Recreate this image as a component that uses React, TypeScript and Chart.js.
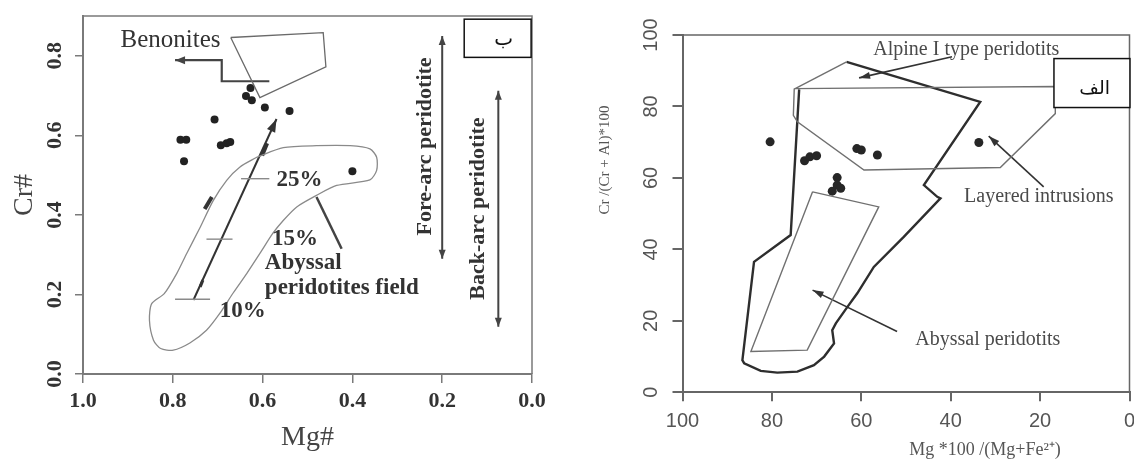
import React, { useEffect, useRef } from 'react';
import { Chart, registerables } from 'chart.js';

Chart.register(...registerables);

// ================= Panel "ب" (left): Cr# vs Mg# =================
const LEFT_X_TICKS = [1.0, 0.8, 0.6, 0.4, 0.2, 0.0];
const LEFT_Y_TICKS = [0.0, 0.2, 0.4, 0.6, 0.8];

const LEFT_SAMPLE_MG = [0.627, 0.637, 0.624, 0.595, 0.540, 0.707, 0.783, 0.770, 0.693, 0.680, 0.672, 0.775, 0.400];
const LEFT_SAMPLE_CR = [0.719, 0.699, 0.688, 0.670, 0.661, 0.640, 0.589, 0.589, 0.575, 0.580, 0.583, 0.535, 0.510];

const BENONITES_MG = [0.671, 0.465, 0.459, 0.606, 0.671];
const BENONITES_CR = [0.846, 0.858, 0.772, 0.695, 0.846];

const BENONITES_ARROW_MG = [0.585, 0.691, 0.691, 0.795];
const BENONITES_ARROW_CR = [0.736, 0.736, 0.789, 0.789];

const ABYSSAL_FIELD_MG = [0.613, 0.554, 0.480, 0.405, 0.361, 0.346, 0.346, 0.361, 0.435, 0.480, 0.524, 0.554, 0.577, 0.606, 0.635, 0.666, 0.695, 0.725, 0.762, 0.799, 0.827, 0.843, 0.852, 0.847, 0.819, 0.791, 0.769, 0.739, 0.710, 0.680, 0.651, 0.613];
const ABYSSAL_FIELD_CR = [0.545, 0.569, 0.574, 0.574, 0.566, 0.545, 0.512, 0.488, 0.474, 0.449, 0.420, 0.386, 0.354, 0.303, 0.253, 0.203, 0.153, 0.110, 0.078, 0.060, 0.064, 0.085, 0.135, 0.177, 0.202, 0.253, 0.303, 0.369, 0.436, 0.487, 0.520, 0.545];

const MELT_TREND_MG = [0.754, 0.569];
const MELT_TREND_CR = [0.186, 0.641];

const MELT_LABELS = ['10%', '15%', '25%'];
const MELT_MARK_CR = [0.188, 0.339, 0.491];
const MELT_MARK_MG_START = [0.795, 0.725, 0.648];
const MELT_MARK_MG_END = [0.717, 0.667, 0.585];

const ABYSSAL_POINTER_MG = [0.424, 0.480];
const ABYSSAL_POINTER_CR = [0.315, 0.445];

const FOREARC_MG = [0.2, 0.2];
const FOREARC_CR = [0.850, 0.290];
const BACKARC_MG = [0.075, 0.075];
const BACKARC_CR = [0.712, 0.119];

const DARK_MARK_A_MG = [0.729, 0.713];
const DARK_MARK_A_CR = [0.415, 0.445];
const DARK_MARK_B_MG = [0.601, 0.590];
const DARK_MARK_B_CR = [0.549, 0.580];
const DARK_MARK_C_MG = [0.739, 0.733];
const DARK_MARK_C_CR = [0.219, 0.236];

// ================= Panel "الف" (right) =================
const RIGHT_X_TICKS = [100, 80, 60, 40, 20, 0];
const RIGHT_Y_TICKS = [0, 20, 40, 60, 80, 100];

const RIGHT_SAMPLE_MG = [80.4, 72.7, 71.5, 70.0, 61.0, 60.0, 56.4, 33.7, 65.4, 65.4, 66.5, 64.6];
const RIGHT_SAMPLE_CR = [70.1, 64.8, 65.9, 66.2, 68.2, 67.8, 66.4, 69.9, 60.1, 58.0, 56.3, 57.1];

const ALPINE_MG = [63.3, 33.4, 46.0, 43.0, 42.3, 50.5, 57.2, 60.9, 63.1, 65.7, 66.5, 66.1, 68.3, 70.6, 74.3, 78.8, 82.5, 86.2, 86.6, 84.0, 75.8, 73.9];
const ALPINE_CR = [92.5, 81.3, 58.0, 54.7, 54.3, 43.5, 35.1, 27.7, 23.9, 19.3, 17.4, 13.7, 10.0, 7.6, 5.8, 5.5, 6.0, 8.1, 9.0, 36.5, 44.0, 84.8];
const ALPINE_CLOSE_MG = [74.8, 63.3];
const ALPINE_CLOSE_CR = [85.0, 92.5];

const LAYERED_MG = [75.0, 16.6, 16.6, 28.9, 59.4, 74.3, 75.2, 75.0];
const LAYERED_CR = [85.0, 85.6, 78.0, 62.9, 62.2, 75.7, 77.5, 85.0];

const ABYSSAL_MG = [70.9, 56.1, 72.1, 84.7, 70.9];
const ABYSSAL_CR = [56.1, 51.9, 11.8, 11.4, 56.1];

const ALPINE_ARROW_MG = [39.7, 60.5];
const ALPINE_ARROW_CR = [93.9, 88.0];
const LAYERED_ARROW_MG = [19.2, 31.5];
const LAYERED_ARROW_CR = [57.5, 71.7];
const ABYSSAL_ARROW_MG = [52.0, 70.9];
const ABYSSAL_ARROW_CR = [17.0, 28.6];

// ---------------------------------------------------------------
const zip = (xs: number[], ys: number[]) => xs.map((x, i) => ({ x, y: ys[i] }));

const SERIF = '"Liberation Serif", "Times New Roman", serif';
const SANS = '"Liberation Sans", Arial, sans-serif';

function lineDs(xs: number[], ys: number[], color: string, width: number, extra: any = {}) {
  return {
    data: zip(xs, ys),
    showLine: true,
    borderColor: color,
    backgroundColor: color,
    borderWidth: width,
    pointRadius: 0,
    tension: 0,
    fill: false,
    clip: false,
    ...extra,
  };
}

type Note = { text: string; x: number; y: number; font: string; color: string; align?: CanvasTextAlign; rotate?: boolean; pixel?: boolean };
type Box = { x1: number; y1: number; x2: number; y2: number };

function makeOverlay(id: string, notes: Note[], boxes: Box[], frameColor: string) {
  return {
    id,
    beforeDatasetsDraw(chart: any) {
      const { ctx, chartArea: a } = chart;
      ctx.save();
      ctx.strokeStyle = frameColor;
      ctx.lineWidth = 1.5;
      ctx.beginPath();
      ctx.moveTo(a.left, a.top);
      ctx.lineTo(a.right, a.top);
      ctx.lineTo(a.right, a.bottom);
      ctx.stroke();
      ctx.restore();
    },
    afterDatasetsDraw(chart: any) {
      const ctx = chart.ctx;
      const xs = chart.scales.x;
      const ys = chart.scales.y;
      const head = (p0: any, p1: any, len: number, w: number, color: string) => {
        const ang = Math.atan2(p1.y - p0.y, p1.x - p0.x);
        const bx = p1.x - len * Math.cos(ang);
        const by = p1.y - len * Math.sin(ang);
        ctx.save();
        ctx.fillStyle = color;
        ctx.beginPath();
        ctx.moveTo(p1.x, p1.y);
        ctx.lineTo(bx - (w / 2) * Math.sin(ang), by + (w / 2) * Math.cos(ang));
        ctx.lineTo(bx + (w / 2) * Math.sin(ang), by - (w / 2) * Math.cos(ang));
        ctx.closePath();
        ctx.fill();
        ctx.restore();
      };
      chart.data.datasets.forEach((ds: any, i: number) => {
        const pts = chart.getDatasetMeta(i).data;
        if (!pts || pts.length < 2) return;
        if (ds.arrowEnd) head(pts[pts.length - 2], pts[pts.length - 1], ds.headLen, ds.headWidth, ds.borderColor);
        if (ds.arrowStart) head(pts[1], pts[0], ds.headLen, ds.headWidth, ds.borderColor);
      });
      boxes.forEach((b) => {
        const l = xs.getPixelForValue(b.x1);
        const r = xs.getPixelForValue(b.x2);
        const t = ys.getPixelForValue(b.y1);
        const bt = ys.getPixelForValue(b.y2);
        ctx.save();
        ctx.fillStyle = '#fff';
        ctx.strokeStyle = '#111';
        ctx.lineWidth = 1.5;
        ctx.fillRect(Math.min(l, r), Math.min(t, bt), Math.abs(r - l), Math.abs(bt - t));
        ctx.strokeRect(Math.min(l, r), Math.min(t, bt), Math.abs(r - l), Math.abs(bt - t));
        ctx.restore();
      });
      notes.forEach((n) => {
        const px = n.pixel ? n.x : xs.getPixelForValue(n.x);
        const py = n.pixel ? n.y : ys.getPixelForValue(n.y);
        ctx.save();
        ctx.font = n.font;
        ctx.fillStyle = n.color;
        ctx.textAlign = n.align || 'center';
        ctx.textBaseline = 'middle';
        ctx.translate(px, py);
        if (n.rotate) ctx.rotate(-Math.PI / 2);
        ctx.fillText(n.text, 0, 0);
        ctx.restore();
      });
    },
  };
}

function leftConfig(): any {
  const bold22 = `bold 22px ${SERIF}`;
  const bold23 = `bold 23px ${SERIF}`;
  const ink = '#333';
  const notes: Note[] = [
    { text: 'Benonites', x: 0.805, y: 0.838, font: `25px ${SERIF}`, color: ink },
    { text: MELT_LABELS[2], x: 0.518, y: 0.488, font: bold23, color: ink },
    { text: MELT_LABELS[1], x: 0.528, y: 0.338, font: bold23, color: ink },
    { text: MELT_LABELS[0], x: 0.644, y: 0.159, font: bold23, color: ink },
    { text: 'Abyssal', x: 0.595, y: 0.279, font: bold23, color: ink, align: 'left' },
    { text: 'peridotites field', x: 0.595, y: 0.215, font: bold23, color: ink, align: 'left' },
    { text: 'Fore-arc peridotite', x: 0.238, y: 0.572, font: bold22, color: ink, rotate: true },
    { text: 'Back-arc peridotite', x: 0.119, y: 0.416, font: bold22, color: ink, rotate: true },
    { text: 'ب', x: 0.063, y: 0.840, font: `20px "DejaVu Sans", sans-serif`, color: '#111' },
  ];
  const boxes: Box[] = [{ x1: 0.151, y1: 0.892, x2: 0.002, y2: 0.796 }];
  const grey = '#7a7a7a';
  const dark = '#333';
  return {
    type: 'scatter',
    data: {
      datasets: [
        lineDs(ABYSSAL_FIELD_MG, ABYSSAL_FIELD_CR, '#8a8a8a', 1.3, { tension: 0.25 }),
        lineDs(BENONITES_MG, BENONITES_CR, '#6a6a6a', 1.3),
        lineDs(BENONITES_ARROW_MG, BENONITES_ARROW_CR, '#444', 2.2, { arrowEnd: true, headLen: 10, headWidth: 8 }),
        ...MELT_MARK_CR.map((c, i) => lineDs([MELT_MARK_MG_START[i], MELT_MARK_MG_END[i]], [c, c], '#8a8a8a', 1.4)),
        lineDs(MELT_TREND_MG, MELT_TREND_CR, dark, 2, { arrowEnd: true, headLen: 13, headWidth: 9 }),
        lineDs(ABYSSAL_POINTER_MG, ABYSSAL_POINTER_CR, '#444', 2.5),
        lineDs(FOREARC_MG, FOREARC_CR, '#444', 2, { arrowEnd: true, arrowStart: true, headLen: 9, headWidth: 7 }),
        lineDs(BACKARC_MG, BACKARC_CR, '#444', 2, { arrowEnd: true, arrowStart: true, headLen: 9, headWidth: 7 }),
        lineDs(DARK_MARK_A_MG, DARK_MARK_A_CR, '#333', 4),
        lineDs(DARK_MARK_B_MG, DARK_MARK_B_CR, '#333', 4),
        lineDs(DARK_MARK_C_MG, DARK_MARK_C_CR, '#333', 3),
        {
          data: zip(LEFT_SAMPLE_MG, LEFT_SAMPLE_CR),
          showLine: false,
          pointRadius: 4,
          pointBackgroundColor: '#222',
          pointBorderColor: '#222',
          pointBorderWidth: 0,
        },
      ],
    },
    options: {
      animation: false,
      responsive: false,
      events: [],
      layout: { padding: { left: 0, top: 16, right: 28, bottom: 0 } },
      plugins: { legend: { display: false }, tooltip: { enabled: false } },
      scales: {
        x: {
          type: 'linear',
          position: 'bottom',
          min: 0,
          max: 1,
          reverse: true,
          afterBuildTicks: (s: any) => { s.ticks = LEFT_X_TICKS.map((v) => ({ value: v })); },
          afterFit: (s: any) => { s.height = 97; s.paddingLeft = 0; s.paddingRight = 0; },
          ticks: {
            callback: (v: any) => Number(v).toFixed(1),
            font: { family: SERIF, size: 22, weight: 'bold' },
            color: '#333',
            padding: 5,
            autoSkip: false,
            maxRotation: 0,
            minRotation: 0,
          },
          grid: { drawOnChartArea: false, drawTicks: true, tickLength: 9, color: grey, lineWidth: 1.5 },
          border: { display: true, color: grey, width: 2 },
          title: { display: true, text: 'Mg#', font: { family: SERIF, size: 28 }, color: '#444', padding: { top: 0, bottom: 17 } },
        },
        y: {
          type: 'linear',
          position: 'left',
          min: 0,
          max: 0.9,
          afterBuildTicks: (s: any) => { s.ticks = LEFT_Y_TICKS.map((v) => ({ value: v })); },
          afterFit: (s: any) => { s.width = 83; s.paddingTop = 0; s.paddingBottom = 0; },
          ticks: {
            callback: (v: any) => Number(v).toFixed(1),
            font: { family: SERIF, size: 22, weight: 'bold' },
            color: '#333',
            padding: 6,
            autoSkip: false,
            minRotation: 90,
            maxRotation: 90,
            crossAlign: 'center',
          },
          grid: { drawOnChartArea: false, drawTicks: true, tickLength: 8, color: grey, lineWidth: 1.5 },
          border: { display: true, color: grey, width: 2 },
          title: { display: true, text: 'Cr#', font: { family: SERIF, size: 28 }, color: '#444', padding: { top: 8, bottom: 0 } },
        },
      },
    },
    plugins: [makeOverlay('overlayLeft', notes, boxes, '#7a7a7a')],
  };
}

function rightConfig(): any {
  const label = '#4a4a4a';
  const f = `20px ${SERIF}`;
  const notes: Note[] = [
    { text: 'Alpine I type peridotits', x: 36.5, y: 95.9, font: f, color: label },
    { text: 'Layered intrusions', x: 20.3, y: 54.7, font: f, color: label },
    { text: 'Abyssal peridotits', x: 31.7, y: 14.8, font: f, color: label },
    { text: 'الف', x: 7.8, y: 85.0, font: `19px "DejaVu Sans", sans-serif`, color: '#111' },
    { text: 'Cr /(Cr + Al)*100', x: 45, y: 160, font: `15px ${SERIF}`, color: '#555', rotate: true, pixel: true },
    { text: 'Mg *100 /(Mg+Fe²⁺)', x: 425, y: 450, font: `18px ${SERIF}`, color: '#555', pixel: true },
  ];
  const boxes: Box[] = [{ x1: 16.9, y1: 93.4, x2: -0.1, y2: 79.7 }];
  const axisGrey = '#666';
  const thin = '#707070';
  const arrow = '#333';
  return {
    type: 'scatter',
    data: {
      datasets: [
        lineDs(LAYERED_MG, LAYERED_CR, thin, 1.4),
        lineDs(ABYSSAL_MG, ABYSSAL_CR, thin, 1.4),
        lineDs(ALPINE_CLOSE_MG, ALPINE_CLOSE_CR, thin, 1.4),
        lineDs(ALPINE_MG, ALPINE_CR, '#2e2e2e', 2.4),
        lineDs(ALPINE_ARROW_MG, ALPINE_ARROW_CR, arrow, 1.6, { arrowEnd: true, headLen: 11, headWidth: 7 }),
        lineDs(LAYERED_ARROW_MG, LAYERED_ARROW_CR, arrow, 1.6, { arrowEnd: true, headLen: 11, headWidth: 7 }),
        lineDs(ABYSSAL_ARROW_MG, ABYSSAL_ARROW_CR, arrow, 1.6, { arrowEnd: true, headLen: 11, headWidth: 7 }),
        {
          data: zip(RIGHT_SAMPLE_MG, RIGHT_SAMPLE_CR),
          showLine: false,
          pointRadius: 4.5,
          pointBackgroundColor: '#262626',
          pointBorderColor: '#262626',
          pointBorderWidth: 0,
        },
      ],
    },
    options: {
      animation: false,
      responsive: false,
      events: [],
      layout: { padding: { left: 0, top: 35, right: 4.5, bottom: 0 } },
      plugins: { legend: { display: false }, tooltip: { enabled: false } },
      scales: {
        x: {
          type: 'linear',
          position: 'bottom',
          min: 0,
          max: 100,
          reverse: true,
          afterBuildTicks: (s: any) => { s.ticks = RIGHT_X_TICKS.map((v) => ({ value: v })); },
          afterFit: (s: any) => { s.height = 78.7; s.paddingLeft = 0; s.paddingRight = 0; },
          ticks: {
            font: { family: SANS, size: 20 },
            color: '#555',
            padding: 8,
            autoSkip: false,
            maxRotation: 0,
            minRotation: 0,
          },
          grid: { drawOnChartArea: false, drawTicks: true, tickLength: 9, color: axisGrey, lineWidth: 2 },
          border: { display: true, color: axisGrey, width: 2 },
        },
        y: {
          type: 'linear',
          position: 'left',
          min: 0,
          max: 100,
          afterBuildTicks: (s: any) => { s.ticks = RIGHT_Y_TICKS.map((v) => ({ value: v })); },
          afterFit: (s: any) => { s.width = 122.5; s.paddingTop = 0; s.paddingBottom = 0; },
          ticks: {
            font: { family: SANS, size: 20 },
            color: '#555',
            padding: 4,
            autoSkip: false,
            minRotation: 90,
            maxRotation: 90,
            crossAlign: 'center',
          },
          grid: { drawOnChartArea: false, drawTicks: true, tickLength: 10, color: axisGrey, lineWidth: 2 },
          border: { display: true, color: axisGrey, width: 2 },
        },
      },
    },
    plugins: [makeOverlay('overlayRight', notes, boxes, '#666')],
  };
}

function Panel({ make, left, width }: { make: () => any; left: number; width: number }) {
  const ref = useRef<HTMLCanvasElement | null>(null);
  useEffect(() => {
    if (!ref.current) return;
    const chart = new Chart(ref.current, make());
    return () => chart.destroy();
  }, []);
  return (
    <canvas
      ref={ref}
      width={width}
      height={471}
      style={{ position: 'absolute', left, top: 0, width, height: 471, display: 'block' }}
    />
  );
}

export default function App() {
  return (
    <div style={{ position: 'fixed', left: 0, top: 0, width: 1134, height: 471, background: '#fff', overflow: 'hidden' }}>
      <Panel make={leftConfig} left={0} width={560} />
      <Panel make={rightConfig} left={560} width={574} />
    </div>
  );
}
